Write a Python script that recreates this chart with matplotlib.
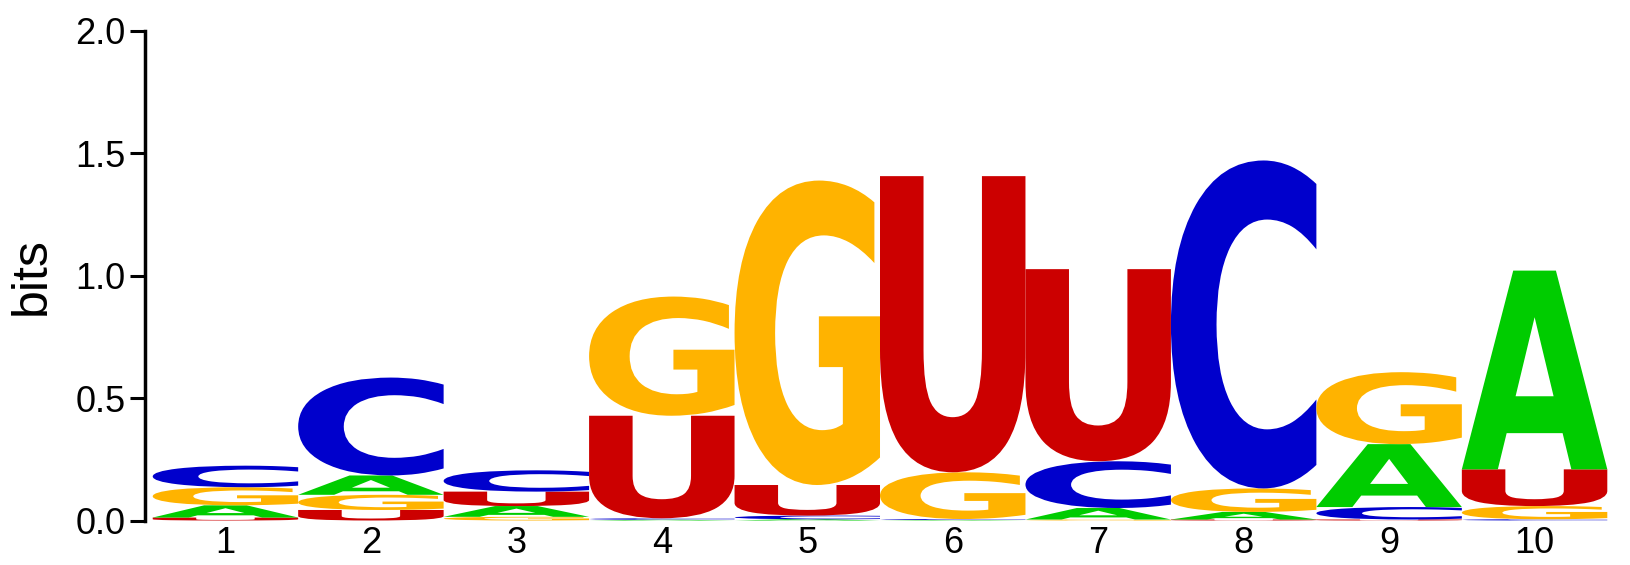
import matplotlib
matplotlib.use("Agg")
import matplotlib.pyplot as plt
from matplotlib.textpath import TextPath
from matplotlib.font_manager import FontProperties
from matplotlib.patches import PathPatch
from matplotlib.transforms import Affine2D

positions = [1, 2, 3, 4, 5, 6, 7, 8, 9, 10]
letters = ["A", "C", "G", "U"]

# information content (bits) per letter
bitsA = [0.050, 0.079, 0.044, 0.003, 0.005, 0.002, 0.047, 0.031, 0.257, 0.812]
bitsC = [0.088, 0.400, 0.087, 0.006, 0.015, 0.004, 0.191, 1.340, 0.051, 0.005]
bitsG = [0.074, 0.062, 0.015, 0.487, 1.244, 0.191, 0.004, 0.096, 0.294, 0.054]
bitsU = [0.012, 0.043, 0.059, 0.419, 0.125, 1.210, 0.785, 0.004, 0.004, 0.150]

colors = {"A": "#00CC00", "C": "#0000CC", "G": "#FFB300", "U": "#CC0000"}
yticks = [0.0, 0.5, 1.0, 1.5, 2.0]

letterFont = FontProperties(family="DejaVu Sans", weight="bold")


def drawLetter(ax, ch, xLeft, yBottom, width, height, color):
    path = TextPath((0, 0), ch, size=1, prop=letterFont)
    bb = path.get_extents()
    tr = (Affine2D()
          .translate(-bb.x0, -bb.y0)
          .scale(width / bb.width, height / bb.height)
          .translate(xLeft, yBottom))
    patch = PathPatch(tr.transform_path(path), facecolor=color,
                      edgecolor="none", transform=ax.transData, clip_on=False)
    ax.add_patch(patch)


def main():
    fig = plt.figure(figsize=(16.3, 5.65), dpi=100)
    ax = fig.add_axes([145 / 1630, 44.5 / 565, 1462.3 / 1630, 489.5 / 565])

    table = {"A": bitsA, "C": bitsC, "G": bitsG, "U": bitsU}
    for i, pos in enumerate(positions):
        stack = sorted(((table[l][i], l) for l in letters), key=lambda t: t[0])
        y = 0.0
        for h, l in stack:
            if h <= 0:
                continue
            drawLetter(ax, l, pos - 0.5, y, 1.0, h, colors[l])
            y += h

    ax.set_xlim(0.447, 10.5)
    ax.set_ylim(0, 2.0)
    ax.set_xticks(positions)
    ax.set_xticklabels([str(p) for p in positions], family="Liberation Sans", fontsize=26)
    ax.set_yticks(yticks)
    ax.set_yticklabels([f"{t:.1f}" for t in yticks], family="Liberation Sans", fontsize=26)

    for side in ["top", "right", "bottom"]:
        ax.spines[side].set_visible(False)
    ax.spines["left"].set_linewidth(2.5)
    ax.spines["left"].set_bounds(0, 2.0)
    ax.tick_params(axis="y", direction="out", length=10.5, width=2.2, pad=3.5)
    ax.tick_params(axis="x", length=0, pad=4)

    ax.set_ylabel("bits", family="Liberation Sans", fontsize=36)
    ax.yaxis.set_label_coords(-0.062, 0.5)

    fig.savefig("out.png", dpi=100)
    plt.close(fig)


if __name__ == "__main__":
    main()
